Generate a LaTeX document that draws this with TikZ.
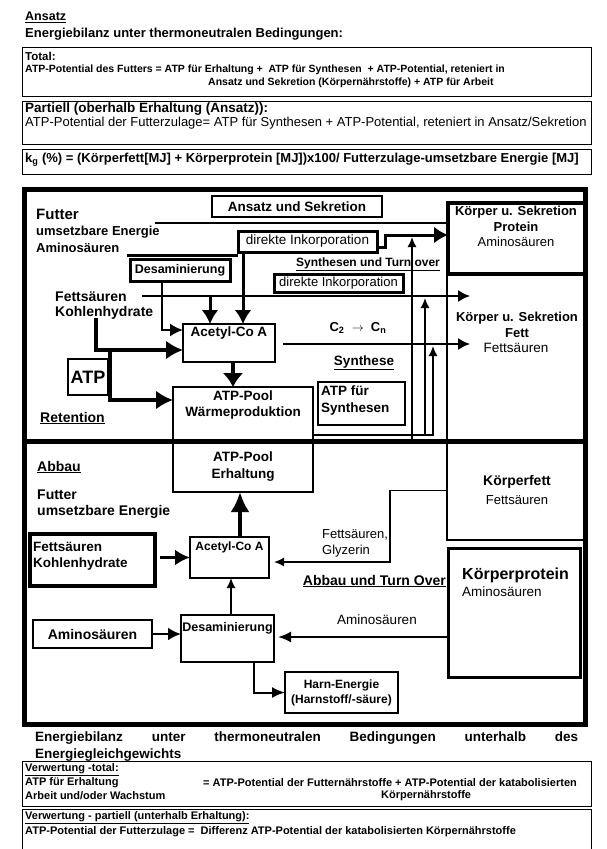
\documentclass[tikz,border=0pt]{standalone}
\usepackage{fontspec}
\setmainfont{Liberation Sans}
\usetikzlibrary{positioning, arrows.meta}

\tikzset{
  box/.style={draw, line width=1.5pt, inner sep=0pt, outer sep=0pt, anchor=north west, align=center},
  heavybox/.style={box, line width=3pt},
  bftext/.style={inner sep=0pt, font=\bfseries\fontsize{#1}{#1}\selectfont},
  bftext/.default=12,
  rmtext/.style={inner sep=0pt, font=\fontsize{#1}{#1}\selectfont},
  rmtext/.default=12,
  link/.style={line width=1.5pt, -{Latex[length=10pt, width=9pt]}},
  heavylink/.style={line width=3pt, -{Latex[length=14pt, width=17pt]}},
}

\begin{document}
\begin{tikzpicture}[x=1pt, y=-1pt]
\useasboundingbox (0,0) rectangle (607,849);

	% header
	\node[bftext=12.5, anchor=west] (ansatz) at (25,17) {\underline{Ansatz}};
	\node[bftext=13, anchor=west]    (titel) at (25,34) {Energiebilanz unter thermoneutralen Bedingungen:};

	\node[box, line width=1pt, minimum width=569pt, minimum height=49pt] (total) at (22,47) {};
	\node[bftext=11.5, anchor=west] (total_h) at (25,56) {Total:};
	\node[bftext=10.5, anchor=west] (total_a) at (25,70) {ATP-Potential des Futters = ATP für Erhaltung +\ \ ATP für Synthesen\ \ + ATP-Potential, reteniert in};
	\node[bftext=10.5, anchor=west] (total_b) at (208,83) {Ansatz und Sekretion (Körpernährstoffe) + ATP für Arbeit};

	\node[box, line width=1pt, minimum width=569pt, minimum height=43pt] (partiell) at (22,101) {};
	\node[bftext=13.5, anchor=west] (partiell_h) at (25,109) {Partiell (oberhalb Erhaltung (Ansatz)):};
	\node[rmtext=13, anchor=west]   (partiell_a) at (25,123) {ATP-Potential der Futterzulage= ATP für Synthesen + ATP-Potential, reteniert in Ansatz/Sekretion};

	\node[box, line width=1pt, minimum width=569pt, minimum height=25pt] (kg) at (22,149) {};
	\node[bftext=13, anchor=west] (kg_a) at (25,160) {k\textsubscript{g} (\%) = (Körperfett[MJ] + Körperprotein [MJ])x100/ Futterzulage-umsetzbare Energie [MJ]};

	% frame
	\node[box, line width=5pt, minimum width=561pt, minimum height=535pt] (rahmen) at (24,189) {};
	\coordinate (trenn_l) at (24,441);
	\coordinate (trenn_r) at (585,441);
	\draw[line width=5pt] (trenn_l) -- (trenn_r);

	% Ansatz: node definitions
	\node[bftext=15, anchor=west] (futter) at (36,214) {Futter};
	\node[bftext=13, anchor=west]    (ume) at (36,232) {umsetzbare Energie};
	\node[bftext=13, anchor=west]  (amino) at (36,248) {Aminosäuren};
	\node[box, line width=1.2pt, minimum width=170pt, minimum height=21pt, bftext=13.5] (ansek) at (212,196) {Ansatz und Sekretion};
	\node[heavybox, minimum width=139pt, minimum height=21pt, rmtext=13.5] (inkorp_a) at (238,231) {direkte Inkorporation};
	\node[heavybox, minimum width=100pt, minimum height=22pt, bftext=12.5] (desamin_a) at (130,259) {Desaminierung};
	\node[bftext=14, anchor=west]   (fett_a) at (55,297) {Fettsäuren};
	\node[bftext=14, anchor=west] (kohlen_a) at (55,313) {Kohlenhydrate};
	\node[box, line width=2pt, minimum width=92pt, minimum height=38pt] (acetyl_a) at (183,324) {};
	\node[bftext=13.5] (acetyl_at) at (229,333) {Acetyl-Co A};
	\node[box, line width=2pt, minimum width=40pt, minimum height=36pt, bftext=18] (atp) at (68,359) {ATP};
	\node[box, line width=2pt, minimum width=140pt, minimum height=54pt] (pool_w) at (173,387) {};
	\node[bftext=13.5, align=center] (pool_wt) at (243,405) {ATP-Pool\\[3pt]Wärmeproduktion};
	\node[bftext=14, anchor=west] (retention) at (40,418) {\underline{Retention}};
	\node[bftext=13] (ckette) at (358,328) {C\textsubscript{2}\ \ $\rightarrow$\ \ C\textsubscript{n}};
	\node[bftext=13.5] (synthese) at (364,363) {\underline{Synthese}};
	\node[box, line width=2pt, minimum width=87pt, minimum height=43pt] (atp_syn) at (318,382) {};
	\node[bftext=13.5, anchor=north west, align=left] (atp_synt) at (321,386) {ATP für\\[3pt]Synthesen};
	\node[bftext=12] (turnover_a) at (368,264) {\underline{Synthesen und Turn over}};
	\node[heavybox, minimum width=129pt, minimum height=18pt, rmtext=13] (inkorp_b) at (274,274) {direkte Inkorporation};
	\node[box, minimum width=138pt, minimum height=167pt] (k_fett) at (447,274) {};
	\node[box, line width=3.5pt, minimum width=137pt, minimum height=71pt] (k_protein) at (448,203) {};
	\node[bftext=13] (k_protein_a) at (516,212) {Körper u. Sekretion};
	\node[bftext=13] (k_protein_b) at (516,227) {Protein};
	\node[rmtext=13] (k_protein_c) at (516,242) {Aminosäuren};
	\node[bftext=13] (k_fett_a) at (517,318) {Körper u. Sekretion};
	\node[bftext=13] (k_fett_b) at (517,333) {Fett};
	\node[rmtext=13.5] (k_fett_c) at (516,348) {Fettsäuren};

	% Ansatz: arrows
	\coordinate (futter_s) at (155,223);
	\draw[line width=1.5pt] (futter_s) -- (futter_s -| k_protein.west);
	\coordinate (amino_s) at (127,255);
	\draw[line width=3pt] (amino_s) -- (amino_s -| inkorp_a.west);
	\coordinate (desamin_o) at (162,281);
	\draw[line width=2pt, -{Latex[length=13pt, width=13pt]}] (desamin_o) |- ([yshift=13pt]acetyl_a.west);
	\coordinate (fett_s) at (142,296);
	\coordinate (fett_e) at (470,296);
	\draw[link, -{Latex[length=12pt, width=12pt]}] (fett_s) -- (fett_e);
	\coordinate (fett_d) at (210,296);
	\draw[heavylink] (fett_d) -- (fett_d |- acetyl_a.north);
	\coordinate (inkorp_d) at (243,252);
	\draw[heavylink] (inkorp_d) -- (inkorp_d |- acetyl_a.north);
	\draw[heavylink] ([yshift=-5.5pt]inkorp_a.east) -- ++(8,0) |- ([yshift=3.5pt]k_protein.west);
	\coordinate (kohlen_s) at (96,318);
	\draw[heavylink, line width=3.5pt, -{Latex[length=17pt, width=19pt]}] (kohlen_s) |- ([yshift=-7pt]acetyl_a.west);
	\coordinate (atp_j) at (110,350);
	\draw[heavylink, line width=3.5pt, -{Latex[length=17pt, width=19pt]}] (atp_j) |- ([yshift=14pt]pool_w.west);
	\coordinate (acetyl_o) at (233,362);
	\draw[heavylink, line width=3.5pt, -{Latex[length=14pt, width=21pt]}] (acetyl_o) -- (acetyl_o |- pool_w.north);
	\coordinate (ckette_s) at (283,344);
	\coordinate (ckette_e) at (470,344);
	\draw[link, -{Latex[length=12pt, width=12pt]}] (ckette_s) -- (ckette_e);
	\coordinate (syn_c) at (433,346);
	\draw[link] ([yshift=-21pt]pool_w.east) -| (syn_c);
	\coordinate (syn_b) at (425,435);
	\coordinate (syn_f) at (425,298);
	\draw[link] (syn_b) -- (syn_f);
	\coordinate (abbau_u) at (412,443);
	\coordinate (abbau_o) at (412,237);
	\draw[link] (abbau_u) -- (abbau_o);

	% Abbau: node definitions
	\node[bftext=14, anchor=west]    (abbau) at (37,467) {\underline{Abbau}};
	\node[bftext=14, anchor=west] (futter_b) at (37,495) {Futter};
	\node[bftext=14, anchor=west]    (ume_b) at (37,512) {umsetzbare Energie};
	\node[box, line width=2pt, minimum width=140pt, minimum height=51pt, bftext=13.5] (pool_e) at (173,441) {ATP-Pool\\[3pt]Erhaltung};
	\node[box, line width=4pt, minimum width=125pt, minimum height=52pt] (fett_kh) at (30,534) {};
	\node[bftext=13.5, anchor=north west, align=left] (fett_kht) at (33,542) {Fettsäuren\\[2pt]Kohlenhydrate};
	\node[box, minimum width=79pt, minimum height=41pt] (acetyl_b) at (190,537) {};
	\node[bftext=12] (acetyl_bt) at (229.5,547) {Acetyl-Co A};
	\node[box, minimum width=138pt, minimum height=99pt] (k_fett_b) at (447,441) {};
	\node[bftext=14]  (k_fett_bt) at (517,482) {Körperfett};
	\node[rmtext=13] (k_fett_bt2) at (517,500) {Fettsäuren};
	\node[rmtext=13, anchor=west] (gly_a) at (322,535) {Fettsäuren,};
	\node[rmtext=13, anchor=west] (gly_b) at (322,551) {Glyzerin};
	\node[box, line width=3pt, minimum width=132pt, minimum height=129pt] (k_protein_b) at (448,548) {};
	\node[bftext=16, anchor=west] (k_protein_bt) at (462,575) {Körperprotein};
	\node[rmtext=13.5, anchor=west] (k_protein_bt2) at (462,592) {Aminosäuren};
	\node[bftext=14, anchor=east] (turnover_b) at (446,581) {\underline{Abbau und Turn Over}};
	\node[box, line width=2pt, minimum width=119pt, minimum height=28pt, bftext=14] (amino_b) at (33,620) {Aminosäuren};
	\node[box, line width=2pt, minimum width=93pt, minimum height=47pt] (desamin_b) at (181,615) {};
	\node[bftext=12.5] (desamin_bt) at (227.5,628) {Desaminierung};
	\node[rmtext=13.5] (amino_l) at (377,620) {Aminosäuren};
	\node[box, line width=2pt, minimum width=113pt, minimum height=41pt, bftext=12] (harn) at (285,672) {Harn-Energie\\[3pt](Harnstoff/-säure)};

	% Abbau: arrows
	\coordinate (fk_o) at (160,557.5);
	\draw[heavylink, line width=3.5pt, -{Latex[length=15pt, width=16pt]}] (fk_o) -- (acetyl_b.west);
	\coordinate (acetyl_bo) at (240,537);
	\draw[heavylink, line width=4.5pt, -{Latex[length=20pt, width=19pt]}] (acetyl_bo) -- (acetyl_bo |- pool_e.south);
	\coordinate (gly_k) at (390,562);
	\coordinate (gly_e) at (274,562);
	\draw[link] (k_fett_b.west) -| (gly_k) -- (gly_e);
	\coordinate (desamin_bo) at (231,615);
	\draw[link] (desamin_bo) -- (desamin_bo |- acetyl_b.south);
	\coordinate (amino_be) at (181,634);
	\draw[heavylink, line width=2.5pt, -{Latex[length=13pt, width=13pt]}] (amino_b.east) -- (amino_be);
	\coordinate (k_protein_bo) at (448,637);
	\coordinate (desamin_be) at (278,637);
	\draw[link, line width=2pt, -{Latex[length=13pt, width=11pt]}] (k_protein_bo) -- (desamin_be);
	\coordinate (harn_s) at (254,662);
	\draw[link, line width=2pt, -{Latex[length=13pt, width=11pt]}] (harn_s) |- (harn.west);

	% footer
	\node[bftext=13.5, anchor=west] (bilanz_a) at (35,738) {\makebox[543pt][s]{Energiebilanz unter thermoneutralen Bedingungen unterhalb des}};
	\node[bftext=13.5, anchor=west] (bilanz_b) at (35,755) {Energiegleichgewichts};

	\node[box, line width=1pt, minimum width=569pt, minimum height=45pt] (verw_t) at (22,761) {};
	\node[bftext=11, anchor=west] (verw_th) at (25,770) {\underline{Verwertung -total:}};
	\node[bftext=11, anchor=west] (verw_ta) at (25,783) {ATP für Erhaltung};
	\node[bftext=11, anchor=west] (verw_tb) at (203,783) {= ATP-Potential der Futternährstoffe + ATP-Potential der katabolisierten};
	\node[bftext=11, anchor=west] (verw_tc) at (25,796) {Arbeit und/oder Wachstum};
	\node[bftext=11, anchor=west] (verw_td) at (381,796) {Körpernährstoffe};

	\node[box, line width=1pt, minimum width=569pt, minimum height=42pt] (verw_p) at (22,809) {};
	\node[bftext=11, anchor=west] (verw_ph) at (25,818) {\underline{Verwertung - partiell (unterhalb Erhaltung):}};
	\node[bftext=11, anchor=west] (verw_pa) at (25,832) {ATP-Potential der Futterzulage =\ \ Differenz ATP-Potential der katabolisierten Körpernährstoffe};

\end{tikzpicture}
\end{document}
